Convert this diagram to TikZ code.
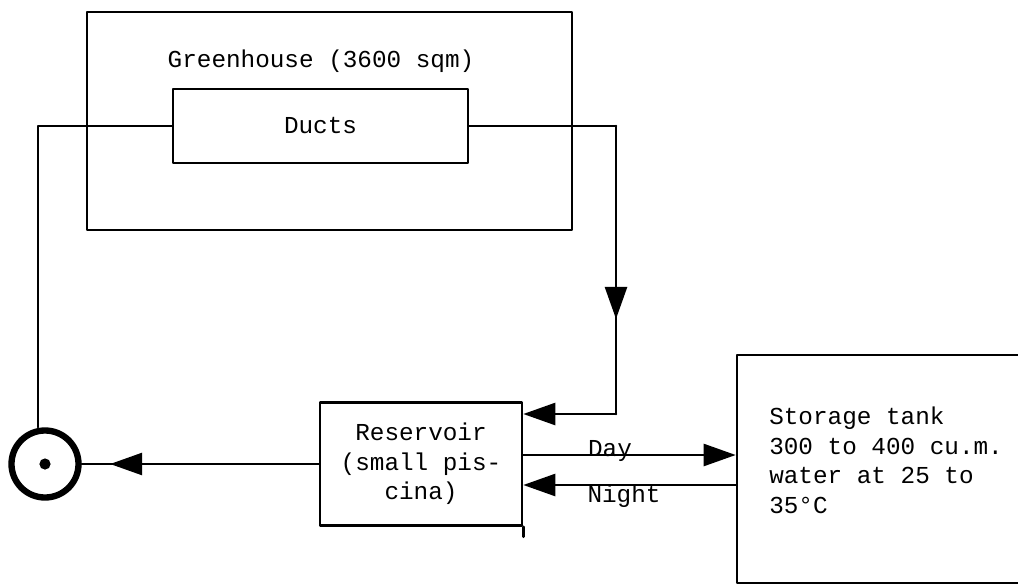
\documentclass[tikz,border=0pt]{standalone}
\usepackage{fontspec}
\setmonofont{Liberation Mono}
\usetikzlibrary{arrows.meta,decorations.markings}

\begin{document}
\begin{tikzpicture}[x=0.025cm, y=-0.025cm, line cap=round, line join=round,
  >={Triangle[length=8mm,width=5.5mm]},
  every node/.style={font=\ttfamily\fontsize{17.3}{21}\selectfont},
  box/.style={draw, line width=1.8pt, rectangle, inner sep=0pt},
  pipe/.style={line width=1.8pt},
  midarrow/.style={postaction={decorate},
    decoration={markings, mark=at position #1 with {\arrow{>}}}}]

\useasboundingbox (0,0) rectangle (1018,585);

%-----------------------
% 温室与管道
%-----------------------
\node[box, minimum width=12.125cm, minimum height=5.45cm] (greenhouse) at (329.5,121) {};
\node[anchor=base] (ghlabel) at (321,67) {Greenhouse (3600 sqm)};
\node[box, minimum width=7.375cm, minimum height=1.85cm] (ducts) at (320.5,126) {Ducts};

%-----------------------
% 蓄水池、储水罐、水泵
%-----------------------
\node[box, minimum width=5.05cm, minimum height=3.075cm, align=center] (reservoir)
  at (421,464) {Reservoir\\(small pis-\\cina)};
\node[box, minimum width=7.2cm, minimum height=5.7cm] (tank) at (881,469) {};
\node[anchor=north west, align=left, inner sep=0pt] (tanklabel) at (769,407)
  {Storage tank\\300 to 400 cu.m.\\water at 25 to\\35°C};

\node[circle, draw, line width=4.5pt, minimum size=1.675cm, inner sep=0pt] (pump) at (45,464) {};
\node[circle, fill, inner sep=0pt, minimum size=2.8mm] (impeller) at (pump.center) {};

%-----------------------
% 管线
%-----------------------
\coordinate (lcorner)  at (38,126);
\coordinate (rcorner)  at (616,126);
\coordinate (fbcorner) at (616,414);
\coordinate (daylevel)   at (0,455);
\coordinate (nightlevel) at (0,485);

\draw[pipe] (ducts.west) -- (lcorner) -- (lcorner |- pump.north);
\draw[pipe] (ducts.east) -- (rcorner);
\draw[pipe, midarrow=0.67] (rcorner) -- (fbcorner);
\draw[pipe, ->] (fbcorner) -- (fbcorner -| reservoir.east);
\draw[pipe, midarrow=0.88] (reservoir.west) -- (pump.east);
\draw[pipe] (reservoir.south east) -- ++(0,10);

\draw[pipe, ->] (reservoir.east |- daylevel) -- (tank.west |- daylevel);
\draw[pipe, ->] (tank.west |- nightlevel) -- (reservoir.east |- nightlevel);

\node[anchor=base] (daylabel)   at (610,456) {Day};
\node[anchor=base] (nightlabel) at (624,502) {Night};

\end{tikzpicture}
\end{document}
